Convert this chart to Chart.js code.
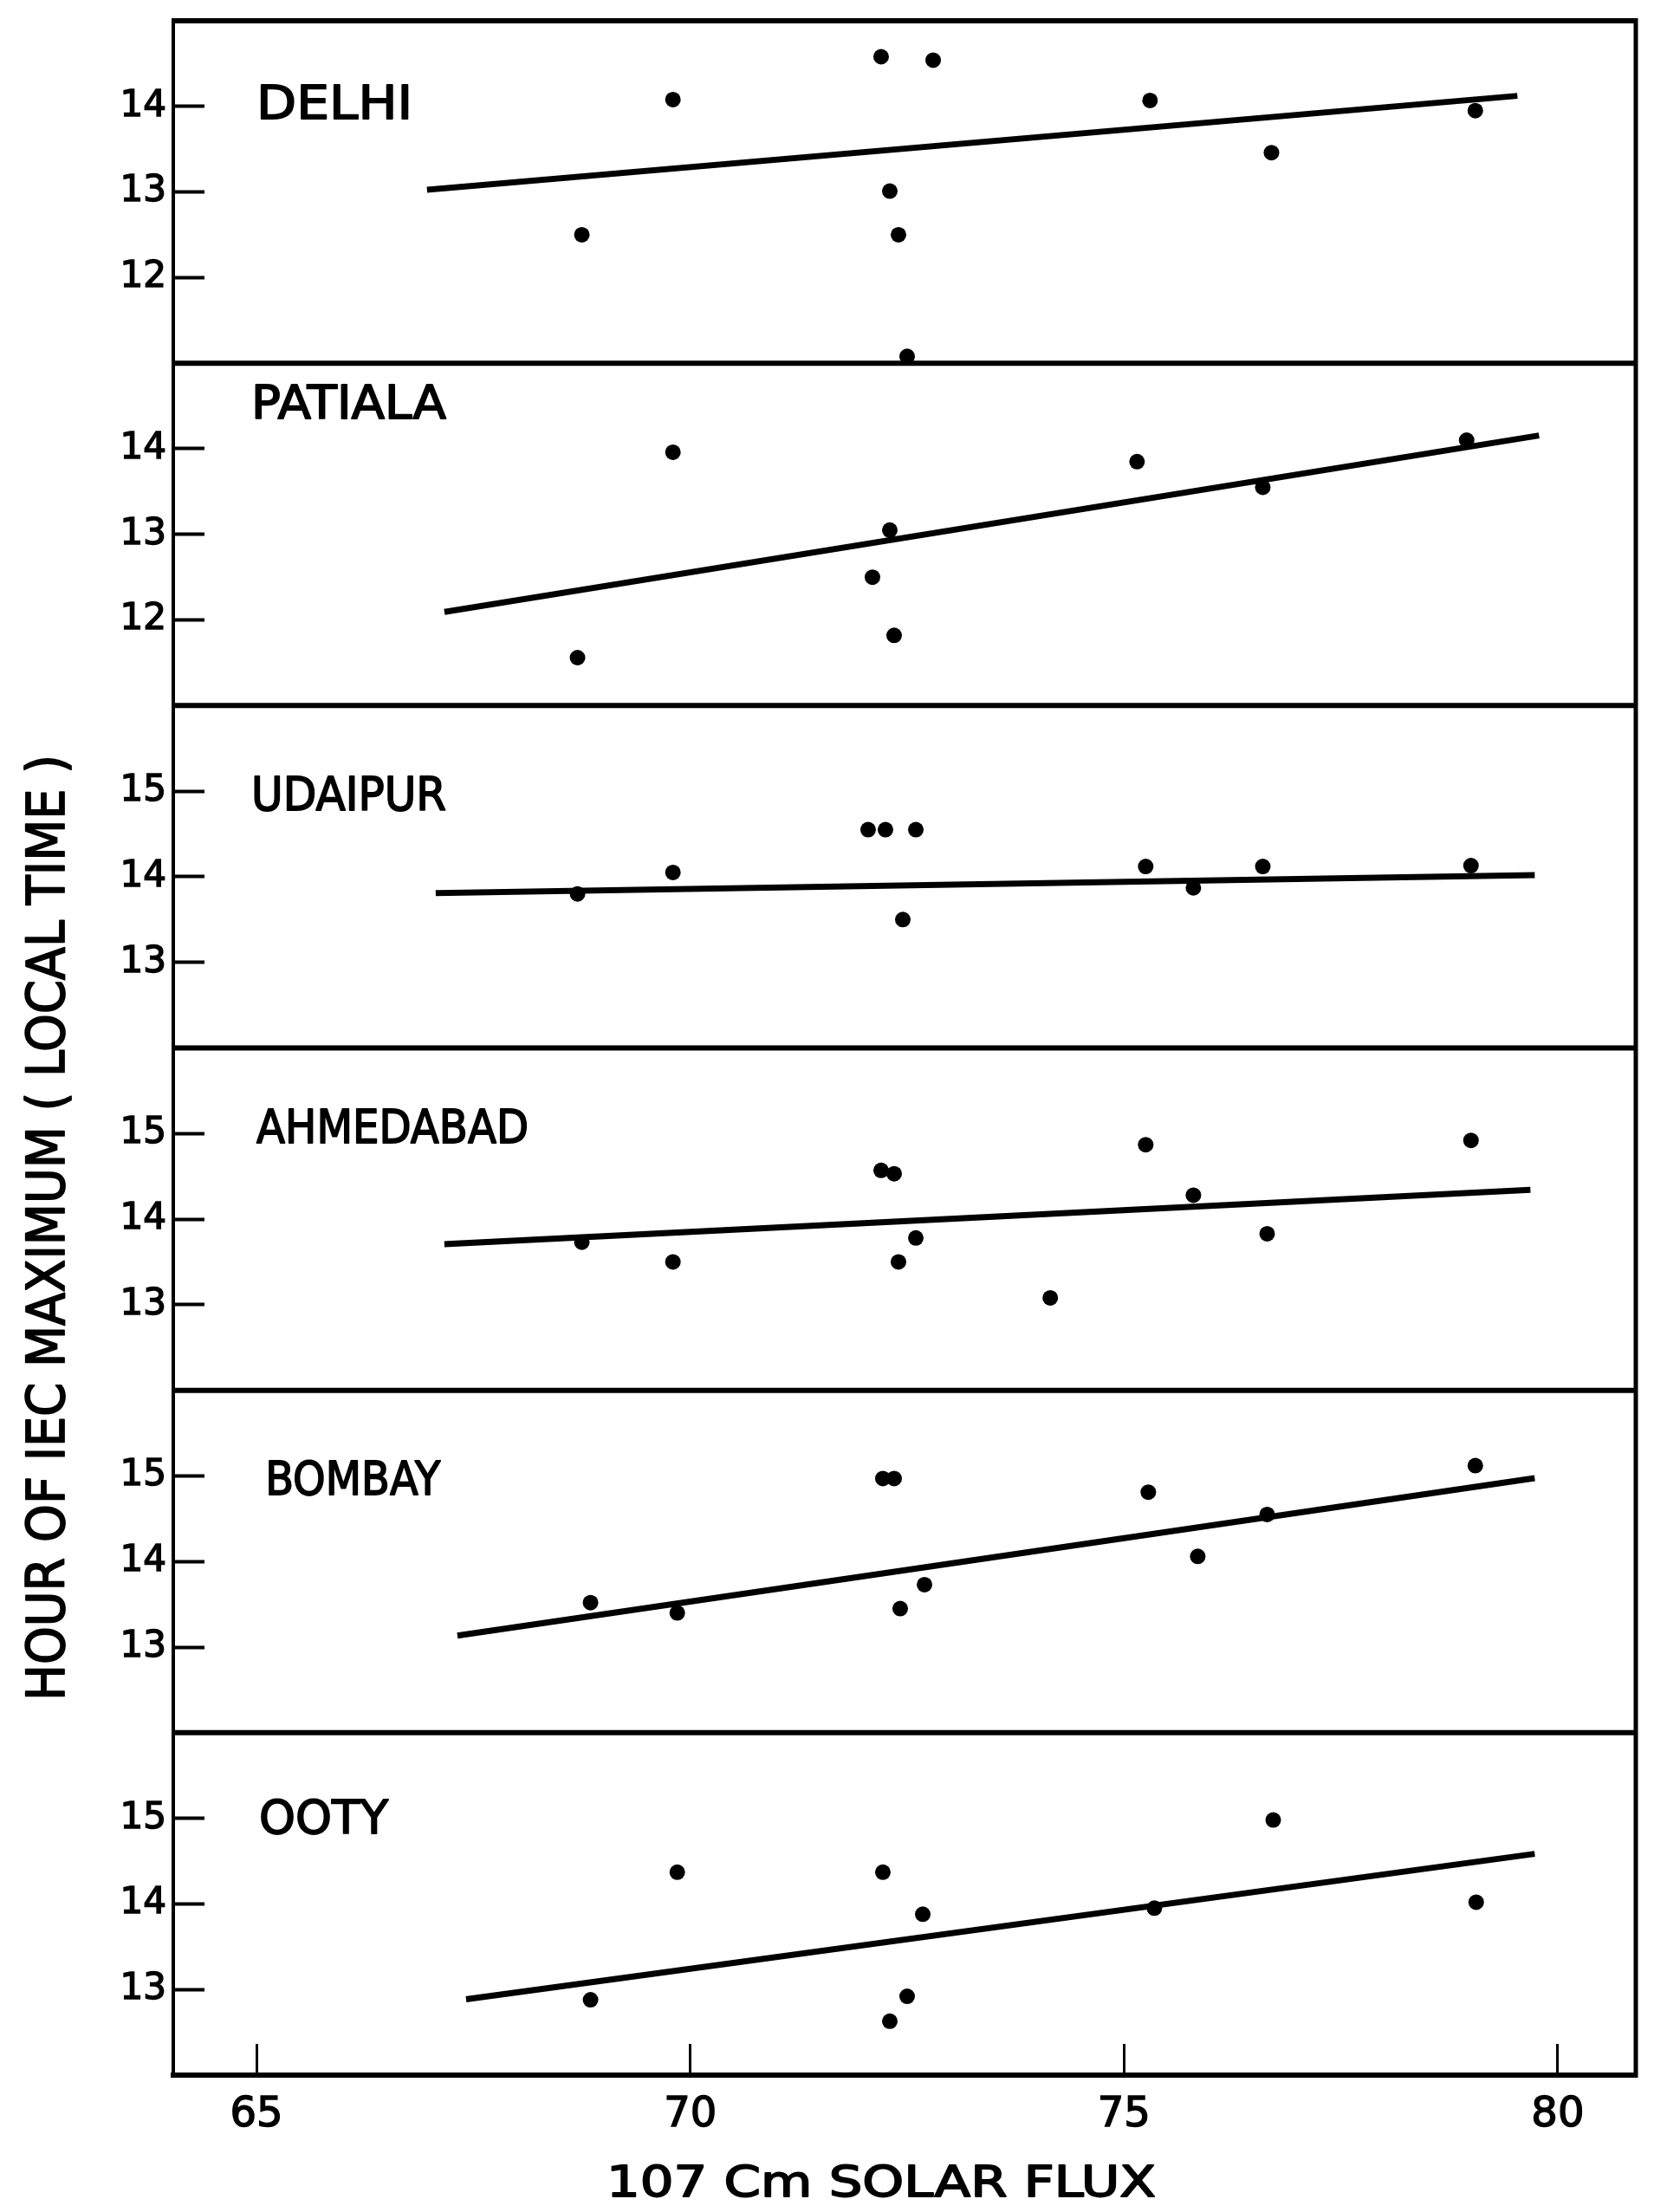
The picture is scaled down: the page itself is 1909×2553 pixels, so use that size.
<!DOCTYPE html>
<html>
<head>
<meta charset="utf-8">
<title>Hour of IEC maximum vs 10.7 cm solar flux</title>
<script src="https://cdn.jsdelivr.net/npm/chart.js@4.4.1/dist/chart.umd.min.js"></script>
<style>
  html, body { margin: 0; padding: 0; background: #fff; }
  #wrap { width: 1909px; height: 2553px; }
</style>
</head>
<body>
<div id="wrap"><canvas id="chart" width="1909" height="2553"></canvas></div>
<script>
// x: 10.7 cm solar flux, y: hour of IEC maximum (local time), one panel per station
const stations = ['DELHI', 'PATIALA', 'UDAIPUR', 'AHMEDABAD', 'BOMBAY', 'OOTY'];

const delhiFlux = [68.75, 69.8, 72.2, 72.8, 72.3, 72.4, 72.5, 75.3, 76.7, 79.05];
const delhiHour = [12.5, 14.08, 14.58, 14.54, 13.01, 12.5, 11.08, 14.07, 13.46, 13.95];
const delhiFitFlux = [67.0, 79.5];
const delhiFitHour = [13.03, 14.12];

const patialaFlux = [68.7, 69.8, 72.1, 72.3, 72.35, 75.15, 76.6, 78.95];
const patialaHour = [11.56, 13.96, 12.5, 13.05, 11.82, 13.85, 13.55, 14.1];
const patialaFitFlux = [67.2, 79.75];
const patialaFitHour = [12.1, 14.15];

const udaipurFlux = [68.7, 69.8, 72.05, 72.25, 72.6, 72.45, 75.25, 75.8, 76.6, 79.0];
const udaipurHour = [13.8, 14.05, 14.55, 14.55, 14.55, 13.5, 14.12, 13.87, 14.12, 14.13];
const udaipurFitFlux = [67.1, 79.7];
const udaipurFitHour = [13.81, 14.02];

const ahmedabadFlux = [68.75, 69.8, 72.2, 72.35, 72.4, 72.6, 74.15, 75.25, 75.8, 76.65, 79.0];
const ahmedabadHour = [13.73, 13.5, 14.57, 14.53, 13.5, 13.78, 13.08, 14.87, 14.28, 13.83, 14.92];
const ahmedabadFitFlux = [67.2, 79.65];
const ahmedabadFitHour = [13.71, 14.34];

const bombayFlux = [68.85, 69.85, 72.22, 72.35, 72.42, 72.7, 75.28, 75.85, 76.65, 79.05];
const bombayHour = [13.52, 13.4, 14.97, 14.97, 13.45, 13.73, 14.81, 14.06, 14.55, 15.12];
const bombayFitFlux = [67.35, 79.7];
const bombayFitHour = [13.14, 14.97];

const ootyFlux = [68.85, 69.85, 72.22, 72.3, 72.5, 72.68, 75.35, 76.72, 79.06];
const ootyHour = [12.88, 14.37, 14.37, 12.63, 12.92, 13.88, 13.95, 14.98, 14.02];
const ootyFitFlux = [67.45, 79.7];
const ootyFitHour = [12.89, 14.58];

const fluxTicks = [65, 70, 75, 80];
const hourRanges = [[11, 15], [11, 15], [12, 16], [12, 16], [12, 16], [12, 16]];
const hourTicks = [[12, 13, 14], [12, 13, 14], [13, 14, 15], [13, 14, 15], [13, 14, 15], [13, 14, 15]];

// where each station name sits inside its panel (data units) and how wide it is drawn
const nameFlux = [65.0, 64.94, 64.94, 65.0, 65.1, 65.03];
const nameHour = [14.0, 14.5, 14.92, 15.03, 14.92, 14.97];
const nameWidth = [180, 225, 225, 314, 202, 149];

const panels = [
  { id: 'yDelhi', flux: delhiFlux, hour: delhiHour, fitFlux: delhiFitFlux, fitHour: delhiFitHour },
  { id: 'yPatiala', flux: patialaFlux, hour: patialaHour, fitFlux: patialaFitFlux, fitHour: patialaFitHour },
  { id: 'yUdaipur', flux: udaipurFlux, hour: udaipurHour, fitFlux: udaipurFitFlux, fitHour: udaipurFitHour },
  { id: 'yAhmedabad', flux: ahmedabadFlux, hour: ahmedabadHour, fitFlux: ahmedabadFitFlux, fitHour: ahmedabadFitHour },
  { id: 'yBombay', flux: bombayFlux, hour: bombayHour, fitFlux: bombayFitFlux, fitHour: bombayFitHour },
  { id: 'yOoty', flux: ootyFlux, hour: ootyHour, fitFlux: ootyFitFlux, fitHour: ootyFitHour }
];

const FONT = "'DejaVu Sans', 'Liberation Sans', sans-serif";
Chart.defaults.font.family = FONT;
Chart.defaults.color = '#000';

const datasets = [];
panels.forEach((p, i) => {
  datasets.push({
    type: 'scatter',
    label: stations[i],
    data: p.flux.map((x, k) => ({ x: x, y: p.hour[k] })),
    yAxisID: p.id,
    showLine: false,
    pointStyle: 'circle',
    pointRadius: 9,
    backgroundColor: '#000',
    borderWidth: 0
  });
  datasets.push({
    type: 'line',
    label: stations[i] + ' fit',
    data: p.fitFlux.map((x, k) => ({ x: x, y: p.fitHour[k] })),
    yAxisID: p.id,
    showLine: true,
    borderColor: '#000',
    borderWidth: 7,
    borderCapStyle: 'square',
    pointRadius: 0,
    fill: false,
    tension: 0
  });
});

const scales = {
  x: {
    type: 'linear',
    position: 'bottom',
    min: 64.04,
    max: 80.9,
    afterBuildTicks: s => { s.ticks = fluxTicks.map(v => ({ value: v })); },
    afterFit: s => { s.height = 158; s.paddingLeft = 0; s.paddingRight = 0; },
    grid: { drawOnChartArea: false, drawTicks: true, tickLength: -36, tickWidth: 3, tickColor: '#000', color: '#000' },
    border: { display: true, color: '#000', width: 6 },
    ticks: { color: '#000', padding: 54, font: { size: 48 }, textStrokeColor: '#000', textStrokeWidth: 1.5 }
  }
};

panels.forEach((p, i) => {
  scales[p.id] = {
    type: 'linear',
    position: 'left',
    stack: 'stations',
    stackWeight: 1,
    weight: panels.length - i,
    min: hourRanges[i][0],
    max: hourRanges[i][1],
    afterBuildTicks: s => { s.ticks = hourTicks[i].map(v => ({ value: v })); },
    afterFit: s => { s.width = 200; s.paddingTop = 0; s.paddingBottom = 0; },
    grid: { drawOnChartArea: false, drawTicks: true, tickLength: -36, tickWidth: 4, tickColor: '#000', color: '#000' },
    border: { display: true, color: '#000', width: 4 },
    ticks: { color: '#000', padding: 44, font: { size: 42 }, textStrokeColor: '#000', textStrokeWidth: 1.5 }
  };
});

// draws text squeezed or stretched to a given width, with a light stroke to thicken it
function drawFitted(ctx, text, x, y, width, font, align) {
  ctx.font = font;
  const w = ctx.measureText(text).width;
  ctx.save();
  ctx.translate(x, y);
  ctx.scale(width / w, 1);
  ctx.textAlign = 'left';
  ctx.textBaseline = 'middle';
  const x0 = align === 'center' ? -w / 2 : 0;
  ctx.lineWidth = 1.8;
  ctx.lineJoin = 'round';
  ctx.fillText(text, x0, 0);
  ctx.strokeText(text, x0, 0);
  ctx.restore();
}

const framePlugin = {
  id: 'frame',
  afterDraw(chart) {
    const { ctx, chartArea: a, scales: sc } = chart;
    ctx.save();
    ctx.strokeStyle = '#000';
    ctx.fillStyle = '#000';

    // panel separators and top edge
    ctx.lineWidth = 6;
    ctx.beginPath();
    panels.forEach(p => {
      const s = sc[p.id];
      ctx.moveTo(a.left - 2, s.top);
      ctx.lineTo(a.right + 2, s.top);
    });
    ctx.stroke();

    // right edge
    ctx.lineWidth = 5;
    ctx.beginPath();
    ctx.moveTo(a.right, a.top - 3);
    ctx.lineTo(a.right, a.bottom + 3);
    ctx.stroke();

    // station names
    panels.forEach((p, i) => {
      const x = sc.x.getPixelForValue(nameFlux[i]);
      const y = sc[p.id].getPixelForValue(nameHour[i]);
      drawFitted(ctx, stations[i], x, y, nameWidth[i], '54px ' + FONT, 'left');
    });

    // axis titles
    ctx.save();
    ctx.translate(58, 1417);
    ctx.rotate(-Math.PI / 2);
    drawFitted(ctx, 'HOUR OF IEC MAXIMUM ( LOCAL TIME )', 0, 0, 1092, '60px ' + FONT, 'center');
    ctx.restore();

    drawFitted(ctx, '107 Cm SOLAR FLUX', 1017, 2522, 634, '50px ' + FONT, 'center');
    ctx.restore();
  }
};

new Chart(document.getElementById('chart'), {
  type: 'scatter',
  data: { datasets: datasets },
  options: {
    responsive: false,
    animation: false,
    devicePixelRatio: 1,
    layout: { padding: { top: 24, right: 21, bottom: 0, left: 0 } },
    plugins: {
      legend: { display: false },
      tooltip: { enabled: false },
      title: { display: false }
    },
    scales: scales
  },
  plugins: [framePlugin]
});
</script>
</body>
</html>
